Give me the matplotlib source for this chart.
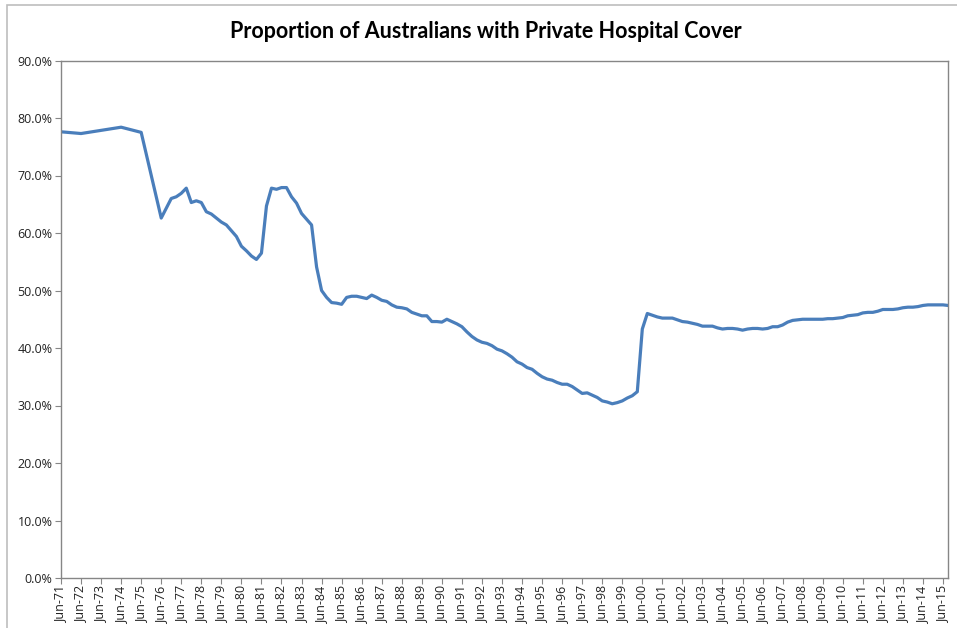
import numpy as np
import pandas as pd
import matplotlib
matplotlib.use("Agg")
import matplotlib.pyplot as plt
from matplotlib.patches import Rectangle

# Early survey points (annual, June)
annual_dates = ["1971-06-30", "1972-06-30", "1974-06-30", "1975-06-30"]
annual_cover = [77.6, 77.3, 78.4, 77.5]

# Quarterly series, Jun-1976 to Sep-2015 (% of population)
quarterly_cover = [
    62.6, 64.3, 66.0,
    66.3, 66.9, 67.8, 65.3,
    65.6, 65.3, 63.7, 63.3,
    62.6, 61.9, 61.4, 60.4,
    59.4, 57.7, 56.9, 56.0,
    55.4, 56.5, 64.7, 67.8,
    67.6, 67.9, 67.9, 66.3,
    65.2, 63.4, 62.4, 61.4,
    54.1, 50.0, 48.8, 47.9,
    47.8, 47.6, 48.8, 49.0,
    49.0, 48.8, 48.6, 49.2,
    48.8, 48.3, 48.1, 47.5,
    47.1, 47.0, 46.8, 46.2,
    45.9, 45.6, 45.6, 44.6,
    44.6, 44.5, 45.0, 44.6,
    44.2, 43.7, 42.8, 42.0,
    41.4, 41.0, 40.8, 40.4,
    39.8, 39.5, 39.0, 38.4,
    37.6, 37.2, 36.6, 36.3,
    35.6, 35.0, 34.6, 34.4,
    34.0, 33.7, 33.7, 33.3,
    32.7, 32.1, 32.2, 31.8,
    31.4, 30.8, 30.6, 30.3,
    30.5, 30.8, 31.3, 31.7,
    32.4, 43.3, 46.0, 45.7,
    45.4, 45.2, 45.2, 45.2,
    44.9, 44.6, 44.5, 44.3,
    44.1, 43.8, 43.8, 43.8,
    43.5, 43.3, 43.4, 43.4,
    43.3, 43.1, 43.3, 43.4,
    43.4, 43.3, 43.4, 43.7,
    43.7, 44.0, 44.5, 44.8,
    44.9, 45.0, 45.0, 45.0,
    45.0, 45.0, 45.1, 45.1,
    45.2, 45.3, 45.6, 45.7,
    45.8, 46.1, 46.2, 46.2,
    46.4, 46.7, 46.7, 46.7,
    46.8, 47.0, 47.1, 47.1,
    47.2, 47.4, 47.5, 47.5,
    47.5, 47.5, 47.4,
]
quarterly_start = "1976-06-30"

tick_years = list(range(1971, 2016))
y_ticks = [0, 10, 20, 30, 40, 50, 60, 70, 80, 90]

title = "Proportion of Australians with Private Hospital Cover"


def decimal_year(ts):
    ts = pd.Timestamp(ts)
    return ts.year + (ts.month - 0.5) / 12.0


q_dates = pd.date_range(quarterly_start, periods=len(quarterly_cover), freq="QE")
dates = list(pd.to_datetime(annual_dates)) + list(q_dates)
x = np.array([decimal_year(d) for d in dates])
y = np.array(annual_cover + quarterly_cover)

fig = plt.figure(figsize=(9.57, 6.28), dpi=100)
fig.patch.set_facecolor("white")

# outer chart border (runs off the right and bottom edges)
fig.patches.append(Rectangle((7.5 / 957, -0.1), 1.2, (628 - 5) / 628 + 0.1,
                             transform=fig.transFigure, fill=False,
                             edgecolor="#bdbdbd", linewidth=1.2))

ax = fig.add_axes([61 / 957, 50 / 628, (948 - 61) / 957, (578 - 60.5) / 628])
ax.plot(x, y, color="#4a7ebb", linewidth=2.3, solid_joinstyle="round")

x_first = decimal_year("1971-06-30")
x_last = decimal_year("2015-09-30")
ax.set_xlim(x_first, x_last)
ax.set_ylim(0, 90)

ax.set_yticks(y_ticks)
ax.set_yticklabels([f"{v:.1f}%" for v in y_ticks])
ax.set_xticks([decimal_year(f"{yr}-06-30") for yr in tick_years])
ax.set_xticklabels([f"Jun-{yr % 100:02d}" for yr in tick_years], rotation=90)

for side in ["left", "bottom", "right", "top"]:
    ax.spines[side].set_color("#868686")
    ax.spines[side].set_linewidth(1.0)

ax.tick_params(axis="both", direction="out", length=4, color="#868686",
               labelsize=9, labelcolor="#222222", pad=2)
for lab in ax.get_xticklabels() + ax.get_yticklabels():
    lab.set_fontfamily("Open Sans")

fig.text(486 / 957, 1 - 32 / 628, title, ha="center", va="center",
         fontsize=15.5, fontweight="bold", family="Lato", color="black")

fig.savefig("out.png", dpi=100)
